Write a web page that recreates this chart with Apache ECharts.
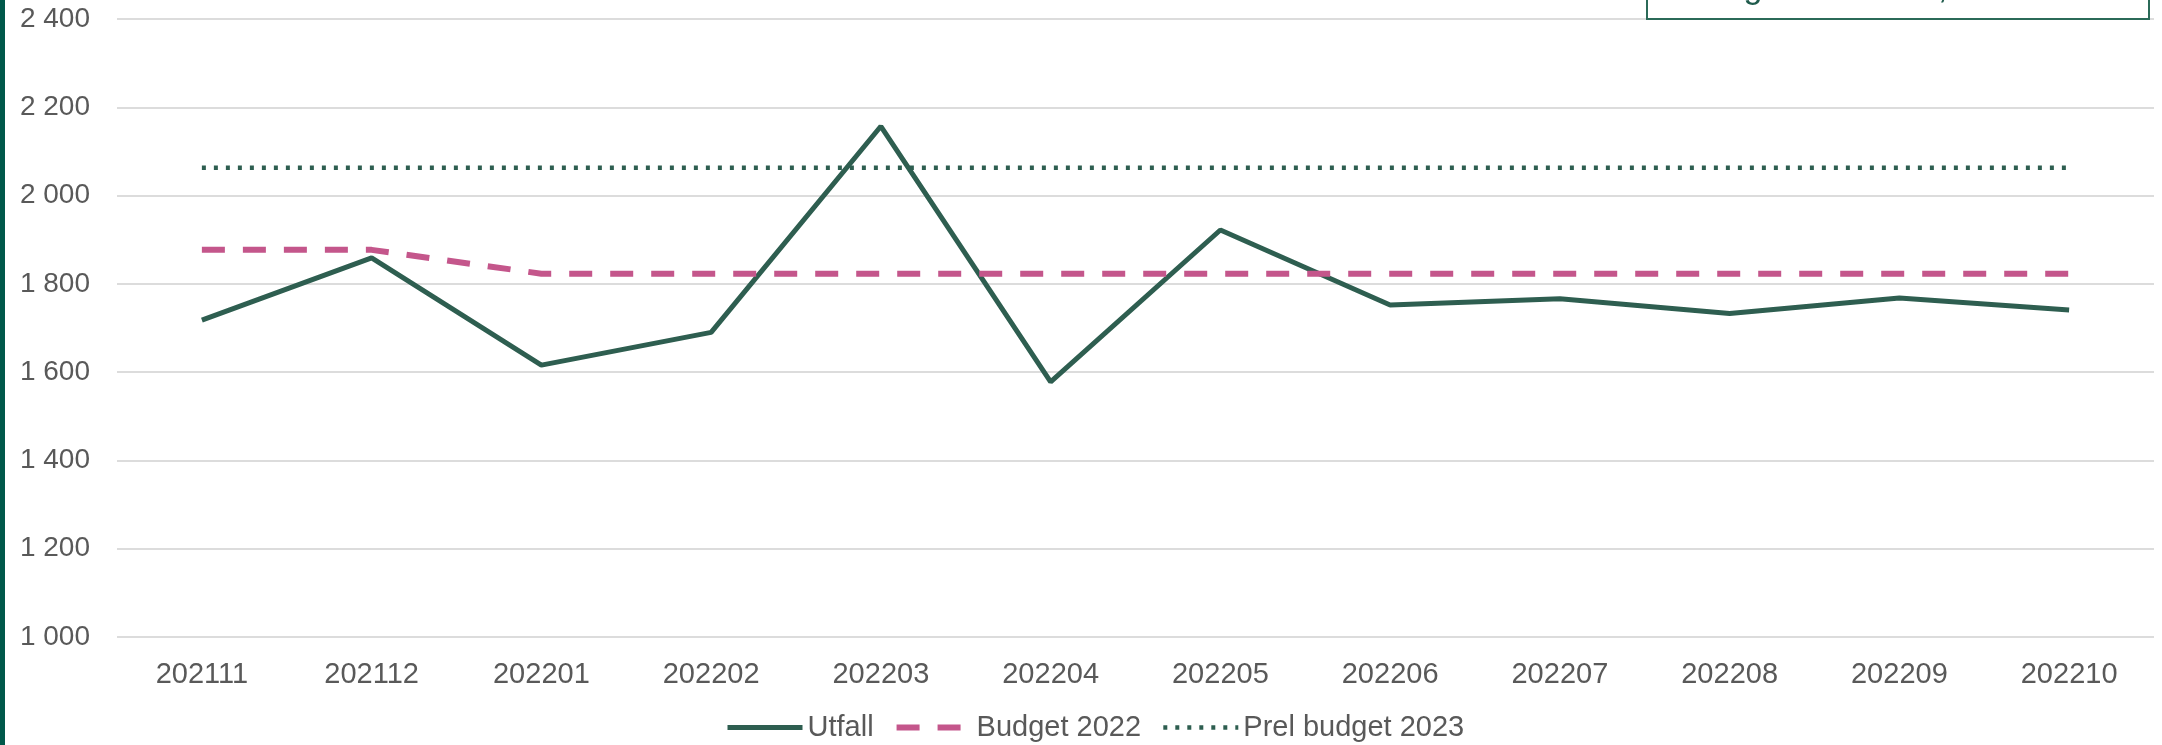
<!DOCTYPE html>
<html>
<head>
<meta charset="utf-8">
<script src="https://cdn.jsdelivr.net/npm/echarts@6/dist/echarts.min.js"></script>
<style>
  html, body { margin: 0; padding: 0; background: #ffffff; }
  #chart { width: 2162px; height: 745px; }
</style>
</head>
<body>
<div id="chart"></div>
<script>
const categories = ['202111', '202112', '202201', '202202', '202203', '202204', '202205', '202206', '202207', '202208', '202209', '202210'];
const utfall = [1718, 1859, 1616, 1690, 2157, 1578, 1922, 1752, 1766, 1733, 1768, 1741];
const budget2022 = [1877, 1877, 1823, 1823, 1823, 1823, 1823, 1823, 1823, 1823, 1823, 1823];
const prelBudget2023 = [2063, 2063, 2063, 2063, 2063, 2063, 2063, 2063, 2063, 2063, 2063, 2063];
const yTicks = [1000, 1200, 1400, 1600, 1800, 2000, 2200, 2400];
const seriesNames = ['Utfall', 'Budget 2022', 'Prel budget 2023'];
const boxTitle = 'Dagverksamhet, antal';

const FONT = 'Liberation Sans';
const GREEN = '#2E5E50';
const PINK = '#C4568B';
const TEXT = '#595959';

const styles = [
  { color: GREEN, width: 5, type: 'solid' },
  { color: PINK, width: 6, type: [23, 18] },
  { color: GREEN, width: 4.5, type: [4, 8] }
];
const values = [utfall, budget2022, prelBudget2023];

function fmt(v) {
  return String(v).replace(/\B(?=(\d{3})+(?!\d))/g, ' ');
}

const chart = echarts.init(document.getElementById('chart'), null, { renderer: 'canvas' });
chart.setOption({
  animation: false,
  backgroundColor: '#ffffff',
  grid: { left: 117, right: 8, top: 19, bottom: 108, containLabel: false },
  xAxis: {
    type: 'category',
    data: categories,
    boundaryGap: true,
    axisLine: { show: false },
    axisTick: { show: false },
    axisLabel: { color: TEXT, fontFamily: FONT, fontSize: 29, margin: 23 }
  },
  yAxis: {
    type: 'value',
    min: yTicks[0],
    max: yTicks[yTicks.length - 1],
    interval: yTicks[1] - yTicks[0],
    axisLine: { show: false },
    axisTick: { show: false },
    splitLine: { lineStyle: { color: '#DCDCDC', width: 2 } },
    axisLabel: { color: TEXT, fontFamily: FONT, fontSize: 28, margin: 27, formatter: fmt }
  },
  legend: {
    left: 720,
    top: 708,
    itemWidth: 75,
    itemHeight: 14,
    itemGap: 20,
    itemStyle: { color: 'rgba(0,0,0,0)', borderColor: 'rgba(0,0,0,0)', borderWidth: 0, opacity: 0 },
    textStyle: { color: TEXT, fontFamily: FONT, fontSize: 29 },
    data: seriesNames.map((n, i) => ({
      name: n,
      itemStyle: { color: 'rgba(0,0,0,0)', borderColor: 'rgba(0,0,0,0)', borderWidth: 0, opacity: 0 },
      lineStyle: { color: styles[i].color, width: styles[i].width, type: styles[i].type, opacity: 1 }
    }))
  },
  series: seriesNames.map((n, i) => ({
    name: n, type: 'line', data: values[i], symbol: 'none',
    lineStyle: { color: styles[i].color, width: styles[i].width, type: styles[i].type },
    itemStyle: { color: styles[i].color }
  })),
  graphic: [
    { type: 'rect', z: 100, shape: { x: 0, y: 0, width: 5, height: 745 }, style: { fill: '#00584A' } },
    { type: 'rect', z: 100, shape: { x: 1647, y: -20, width: 502, height: 39 }, style: { fill: '#ffffff', stroke: '#2B6A58', lineWidth: 2 } },
    { type: 'text', z: 101, x: 1700, y: -11, style: { text: boxTitle, fill: '#1F5B4C', font: '34px "Liberation Sans"', verticalAlign: 'middle', align: 'left' } }
  ]
});
</script>
</body>
</html>
